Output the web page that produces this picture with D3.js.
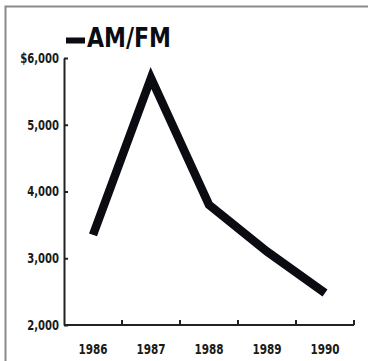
<!DOCTYPE html>
<html>
<head>
<meta charset="utf-8">
<script src="https://cdn.jsdelivr.net/npm/d3@7"></script>
<style>
  html, body { margin: 0; padding: 0; background: #fff; }
  svg { display: block; }
  .lbl { font-family: "DejaVu Sans Condensed", "DejaVu Sans", sans-serif; font-weight: bold; fill: #1a1a1a; }
  .ttl { font-family: "DejaVu Sans Condensed", "DejaVu Sans", sans-serif; font-weight: bold; fill: #0b0b12; }
</style>
</head>
<body>
<svg id="chart" width="374" height="361"></svg>
<script>
// Radio revenue by year, AM/FM
const years = ["1986", "1987", "1988", "1989", "1990"];
const revenue = [3350, 5700, 3800, 3100, 2480];
const yTicks = [2000, 3000, 4000, 5000, 6000];
const seriesName = "AM/FM";

const svg = d3.select("#chart");
const W = 374, H = 361;
const plotL = 64, plotR = 354, plotT = 58, plotB = 325;
const narrow = 0.8; // horizontal squeeze for the condensed label face

// page frame (top and left rules)
svg.append("path")
  .attr("d", `M5.5,${H} V6.5 H368`)
  .attr("fill", "none")
  .attr("stroke", "#8a8a8a")
  .attr("stroke-width", 2);

const x = d3.scaleBand().domain(years).range([plotL, plotR]).padding(0);
const y = d3.scaleLinear().domain([2000, 6000]).range([plotB, plotT]);

// y axis: ticks point inward
const yAxis = d3.axisLeft(y).tickValues(yTicks).tickSizeInner(-4).tickSizeOuter(0)
  .tickFormat(d => (d === 6000 ? "$" : "") + d3.format(",")(d));
const gy = svg.append("g").attr("transform", `translate(${plotL},0)`).call(yAxis);
gy.select(".domain").attr("stroke", "#222").attr("stroke-width", 2);
gy.selectAll(".tick line").attr("stroke", "#222").attr("stroke-width", 2);
gy.selectAll(".tick text").attr("class", "lbl")
  .attr("x", null)
  .attr("transform", `translate(-5,0) scale(${narrow},1)`)
  .attr("font-size", 14);

// x axis: ticks sit on the band boundaries
const gx = svg.append("g").attr("transform", `translate(0,${plotB})`);
gx.append("line").attr("x1", plotL).attr("x2", plotR).attr("y1", 0).attr("y2", 0)
  .attr("stroke", "#222").attr("stroke-width", 2);
const bounds = years.map(d => x(d) + x.bandwidth());
gx.selectAll("line.tk").data(bounds).enter().append("line").attr("class", "tk")
  .attr("x1", d => d).attr("x2", d => d).attr("y1", 0).attr("y2", -5)
  .attr("stroke", "#222").attr("stroke-width", 2);
gx.selectAll("text").data(years).enter().append("text")
  .attr("class", "lbl")
  .attr("transform", d => `translate(${x(d) + x.bandwidth() / 2},29) scale(${narrow},1)`)
  .attr("text-anchor", "middle")
  .attr("font-size", 14.5)
  .text(d => d);

// series line
const line = d3.line()
  .x((d, i) => x(years[i]) + x.bandwidth() / 2)
  .y(d => y(d));
svg.append("path")
  .datum(revenue)
  .attr("d", line)
  .attr("fill", "none")
  .attr("stroke", "#0b0b12")
  .attr("stroke-width", 8.5)
  .attr("stroke-linejoin", "miter")
  .attr("stroke-miterlimit", 10);

// title with legend swatch
svg.append("line").attr("x1", 66).attr("x2", 85).attr("y1", 40.5).attr("y2", 40.5)
  .attr("stroke", "#0b0b12").attr("stroke-width", 6);
svg.append("text").attr("class", "ttl")
  .attr("transform", "translate(87,47) scale(0.98,1.08)")
  .attr("font-size", 25)
  .text(seriesName);
</script>
</body>
</html>
